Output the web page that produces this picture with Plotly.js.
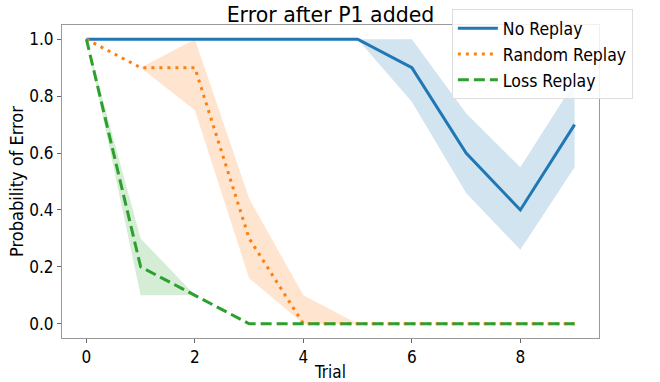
<!DOCTYPE html>
<html>
<head>
<meta charset="utf-8">
<script src="https://cdn.plot.ly/plotly-3.0.1.min.js"></script>
<style>html,body{margin:0;padding:0;background:#fff;}#chart{width:660px;height:382px;}</style>
</head>
<body>
<div id="chart"></div>
<script>
const trials = [0, 1, 2, 3, 4, 5, 6, 7, 8, 9];
const noReplay = [1, 1, 1, 1, 1, 1, 0.9, 0.6, 0.4, 0.7];
const noReplayUpper = [1, 1, 1, 1, 1, 1, 1.0, 0.74, 0.55, 0.85];
const noReplayLower = [1, 1, 1, 1, 1, 1, 0.78, 0.46, 0.26, 0.55];
const randomReplay = [1, 0.9, 0.9, 0.3, 0, 0, 0, 0, 0, 0];
const randomUpper = [1, 0.9, 1.0, 0.44, 0.1, 0, 0, 0, 0, 0];
const randomLower = [1, 0.9, 0.75, 0.16, 0, 0, 0, 0, 0, 0];
const lossReplay = [1, 0.2, 0.1, 0, 0, 0, 0, 0, 0, 0];
const lossUpper = [1, 0.3, 0.1, 0, 0, 0, 0, 0, 0, 0];
const lossLower = [1, 0.1, 0.1, 0, 0, 0, 0, 0, 0, 0];
const seriesNames = ['No Replay', 'Random Replay', 'Loss Replay'];
const xTicks = [0, 2, 4, 6, 8];
const yTicks = [0.0, 0.2, 0.4, 0.6, 0.8, 1.0];

const colors = ['#1f77b4', '#ff7f0e', '#2ca02c'];
const bandColors = ['rgba(31,119,180,0.2)', 'rgba(255,127,14,0.2)', 'rgba(44,160,44,0.2)'];
const dashes = ['solid', '3px,5px', '11px,5px'];
const means = [noReplay, randomReplay, lossReplay];
const uppers = [noReplayUpper, randomUpper, lossUpper];
const lowers = [noReplayLower, randomLower, lossLower];

const traces = [];
for (let i = 0; i < 3; i++) {
  traces.push({x: trials, y: lowers[i], mode: 'lines', line: {width: 0, color: bandColors[i]}, showlegend: false, hoverinfo: 'skip'});
  traces.push({x: trials, y: uppers[i], mode: 'lines', line: {width: 0, color: bandColors[i]}, fill: 'tonexty', fillcolor: bandColors[i], showlegend: false, hoverinfo: 'skip'});
}
for (let i = 0; i < 3; i++) {
  traces.push({x: trials, y: means[i], mode: 'lines', name: seriesNames[i], line: {color: colors[i], width: 3, dash: dashes[i]}});
}

const font = 'DejaVu Sans, sans-serif';
const cfont = 'DejaVu Sans Condensed, DejaVu Sans, sans-serif';
const layout = {
  width: 660, height: 382,
  margin: {l: 62, r: 61, t: 25, b: 44, autoexpand: false},
  paper_bgcolor: '#fff', plot_bgcolor: '#fff',
  font: {family: cfont, color: '#000', size: 17},
  title: {text: 'Error after P1 added', font: {family: font, size: 20.5, color: '#000'}, x: 0.5, xref: 'paper', xanchor: 'center', y: 0.962, yanchor: 'middle'},
  xaxis: {range: [-0.45, 9.45], tickvals: xTicks, ticktext: xTicks.map(String), showgrid: false, zeroline: false,
    showline: true, linecolor: '#999', linewidth: 1, mirror: true, ticks: 'outside', ticklen: 4, tickcolor: '#666',
    tickfont: {size: 17}, title: {text: 'Trial', font: {size: 17}, standoff: 2}, automargin: false},
  yaxis: {range: [-0.05, 1.05], tickvals: yTicks, ticktext: yTicks.map(v => v.toFixed(1)), showgrid: false, zeroline: false,
    showline: true, linecolor: '#999', linewidth: 1, mirror: true, ticks: 'outside', ticklen: 4, tickcolor: '#666',
    tickfont: {size: 17}, title: {text: 'Probability of Error', font: {size: 18}, standoff: 0}, automargin: false},
  legend: {x: 0.726, y: 1.05, xanchor: 'left', yanchor: 'top', bgcolor: 'rgba(255,255,255,0.85)', bordercolor: '#dddddd', borderwidth: 1,
    font: {size: 17.5}, tracegroupgap: 0, itemwidth: 40, traceorder: 'normal'},
  showlegend: true
};
Plotly.newPlot('chart', traces, layout, {displayModeBar: false, staticPlot: true});
</script>
</body>
</html>
